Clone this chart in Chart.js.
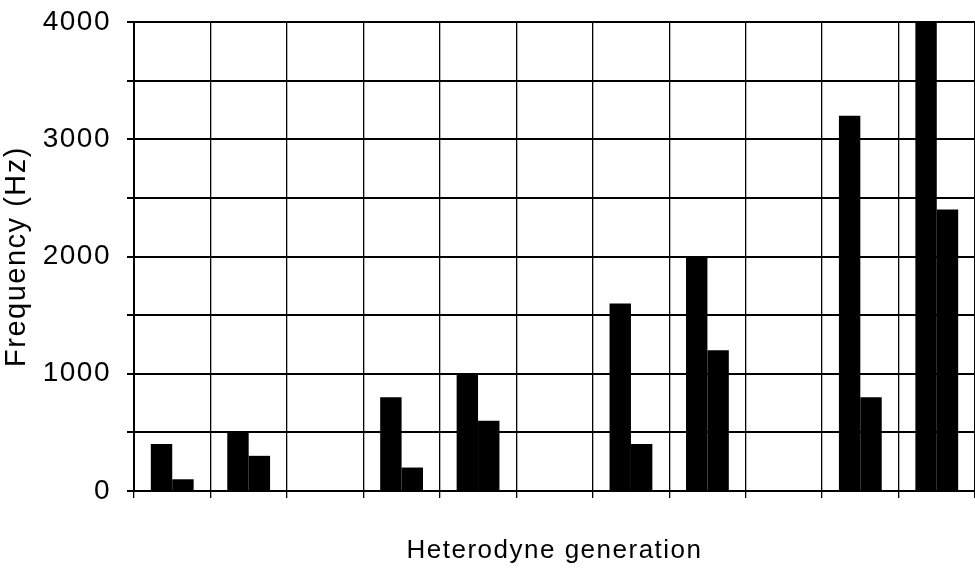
<!DOCTYPE html>
<html>
<head>
<meta charset="utf-8">
<script src="https://cdn.jsdelivr.net/npm/chart.js@4/dist/chart.umd.min.js"></script>
<style>
  html, body { margin: 0; padding: 0; background: #fff; }
  #wrap { width: 975px; height: 570px; }
</style>
</head>
<body>
<div id="wrap"><canvas id="freqChart" width="975" height="570"></canvas></div>
<script>
// heterodyne generations (empty columns are generations with no tone)
const generations = ['1', '2', '3', '4', '5', '6', '7', '8', '9', '10', '11'];
const upperFreq = [400, 500, null, 800, 1000, null, 1600, 2000, null, 3200, 4000];
const lowerFreq = [100, 300, null, 200, 600, null, 400, 1200, null, 800, 2400];
const yTicks = [0, 1000, 2000, 3000, 4000];

const fontFamily = '"Liberation Sans", Arial, sans-serif';

// the scan looks a bit stretched, so spread letters a little
const spacing = {
    id: 'spacing',
    beforeDraw(chart) {
        chart.ctx.letterSpacing = '1.5px';
    }
};

function buildChart() {
    const ctx = document.getElementById('freqChart');

    const config = {
        type: 'bar',
        data: {
            labels: generations,
            datasets: [
                { label: 'upper', data: upperFreq, backgroundColor: '#000', borderWidth: 0 },
                { label: 'lower', data: lowerFreq, backgroundColor: '#000', borderWidth: 0 }
            ]
        },
        options: {
            responsive: false,
            animation: false,
            layout: { padding: { top: 22, right: 0, left: 0, bottom: 0 } },
            datasets: { bar: { barPercentage: 1, categoryPercentage: 0.56 } },
            plugins: { legend: { display: false }, tooltip: { enabled: false } },
            scales: {
                x: {
                    grid: { color: '#000', lineWidth: 1.3, tickLength: 7, offset: true },
                    border: { color: '#000', width: 2 },
                    ticks: { display: false },
                    title: {
                        display: true,
                        text: 'Heterodyne generation',
                        color: '#000',
                        font: { family: fontFamily, size: 26 },
                        padding: { top: 0, bottom: 4 }
                    },
                    afterFit(scale) { scale.height = 79; }
                },
                y: {
                    min: 0,
                    max: 4000,
                    grid: { color: '#000', lineWidth: 2, tickLength: 7 },
                    border: { color: '#000', width: 2 },
                    ticks: {
                        stepSize: 500,
                        padding: 16,
                        color: '#000',
                        font: { family: fontFamily, size: 28 },
                        callback: (v) => yTicks.includes(v) ? String(v) : ''
                    },
                    title: {
                        display: true,
                        text: 'Frequency (Hz)',
                        color: '#000',
                        font: { family: fontFamily, size: 29 },
                        padding: { top: 0, bottom: 8 }
                    },
                    afterFit(scale) {
                        scale.width = 134;
                        scale.paddingTop = 0;
                        scale.paddingBottom = 0;
                    }
                }
            }
        },
        plugins: [spacing]
    };

    new Chart(ctx, config);
}

buildChart();
</script>
</body>
</html>
